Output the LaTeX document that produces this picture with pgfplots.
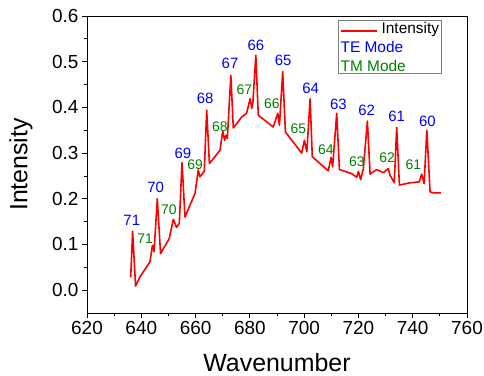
\documentclass[border=0pt]{standalone}
\usepackage{pgfplots}
\pgfplotsset{compat=1.18}
\usepackage{fontspec}
\setmainfont{Liberation Sans}
\definecolor{teblue}{RGB}{0,0,255}
\definecolor{tmgreen}{RGB}{0,128,0}
\begin{document}
\begin{tikzpicture}
\useasboundingbox (-87bp,-63bp) rectangle (397bp,313bp);
\begin{axis}[
  scale only axis,
  width=380bp, height=297bp,
  xmin=620, xmax=760, ymin=-0.05, ymax=0.6,
  xtick={620,640,...,760},
  ytick={0,0.1,...,0.6},
  minor x tick num=1, minor y tick num=1,
  tick align=outside,
  xtick pos=bottom, ytick pos=left,
  major tick length=5bp, minor tick length=3bp,
  every tick/.style={black, line width=0.8bp},
  axis line style={line width=0.8bp},
  tick label style={font=\fontsize{19}{22}\selectfont},
  /pgf/number format/assume math mode=true,
  yticklabel style={/pgf/number format/fixed, /pgf/number format/fixed zerofill, /pgf/number format/precision=1},
  xticklabel style={/pgf/number format/1000 sep={}},
  xlabel={Wavenumber}, ylabel={Intensity},
  label style={font=\fontsize{25}{28}\selectfont},
  xlabel style={at={(axis description cs:0.5,-0.196)}, anchor=base},
  ylabel style={at={(axis description cs:-0.1737,0.5)}, anchor=center},
  clip=false,
]
\addplot[red, line width=1.6bp, line join=round] coordinates {
(636.1,0.028) (636.8,0.129) (637.9,0.009) (639.5,0.029) (643.2,0.062)
(644.1,0.098) (644.7,0.084) (645.9,0.200) (647.1,0.080) (650.3,0.113)
(651.8,0.155) (653.0,0.137) (654.0,0.146) (655.0,0.279) (656.1,0.160)
(659.8,0.212) (661.0,0.263) (661.6,0.248) (662.5,0.255) (663.2,0.260)
(664.1,0.394) (665.1,0.277) (669.0,0.306) (670.0,0.348) (670.7,0.328)
(671.2,0.339) (671.7,0.332) (673.0,0.470) (673.9,0.355) (677.0,0.379)
(678.8,0.387) (680.1,0.419) (680.7,0.398) (681.1,0.410) (682.2,0.514)
(683.1,0.383) (688.6,0.357) (690.3,0.387) (690.9,0.361) (692.1,0.478)
(693.1,0.346) (699.1,0.300) (700.1,0.328) (701.0,0.303) (702.2,0.419)
(703.0,0.292) (708.9,0.261) (709.9,0.290) (710.5,0.270) (712.0,0.387)
(713.0,0.264) (717.5,0.255) (719.4,0.247) (720.0,0.260) (720.8,0.242)
(721.8,0.265) (723.3,0.370) (724.3,0.254) (726.7,0.264) (729.2,0.257)
(731.0,0.266) (731.6,0.252) (733.2,0.235) (734.1,0.356) (735.1,0.230)
(739.0,0.235) (742.4,0.237) (743.3,0.254) (744.2,0.233) (745.2,0.350)
(746.4,0.215) (747.6,0.213) (750.4,0.213)
};
% legend
\node[draw=gray, line width=0.6bp, fill=white, anchor=north east, inner xsep=2.5bp, inner ysep=2bp,
  align=left, font=\fontsize{15.5}{19}\selectfont] (leg)
  at (axis description cs:0.934,0.9865)
  {\hspace*{41bp}Intensity\\
   \textcolor{teblue}{TE Mode}\\
   \textcolor{tmgreen}{TM Mode}};
\draw[draw=red, line width=1.6bp] ([xshift=3bp, yshift=-11bp]leg.north west) -- ++(36bp,0bp);
% TE labels
\begin{scope}[every node/.style={text=teblue, font=\fontsize{15}{17}\selectfont, inner sep=0pt}]
\node at (axis cs:636.5,0.153) {71};
\node at (axis cs:645.3,0.225) {70};
\node at (axis cs:655.3,0.300) {69};
\node at (axis cs:663.5,0.419) {68};
\node at (axis cs:672.7,0.496) {67};
\node at (axis cs:682.2,0.535) {66};
\node at (axis cs:692.3,0.503) {65};
\node at (axis cs:702.4,0.441) {64};
\node at (axis cs:712.6,0.407) {63};
\node at (axis cs:723.0,0.394) {62};
\node at (axis cs:734.1,0.381) {61};
\node at (axis cs:745.4,0.370) {60};
\end{scope}
% TM labels
\begin{scope}[every node/.style={text=tmgreen, font=\fontsize{14}{16}\selectfont, inner sep=0pt}]
\node at (axis cs:641.4,0.113) {71};
\node at (axis cs:650.2,0.177) {70};
\node at (axis cs:659.8,0.274) {69};
\node at (axis cs:669.0,0.357) {68};
\node at (axis cs:678.0,0.438) {67};
\node at (axis cs:688.1,0.407) {66};
\node at (axis cs:697.9,0.354) {65};
\node at (axis cs:708.0,0.308) {64};
\node at (axis cs:719.4,0.281) {63};
\node at (axis cs:730.6,0.290) {62};
\node at (axis cs:740.2,0.274) {61};
\end{scope}
\end{axis}
\end{tikzpicture}
\end{document}
